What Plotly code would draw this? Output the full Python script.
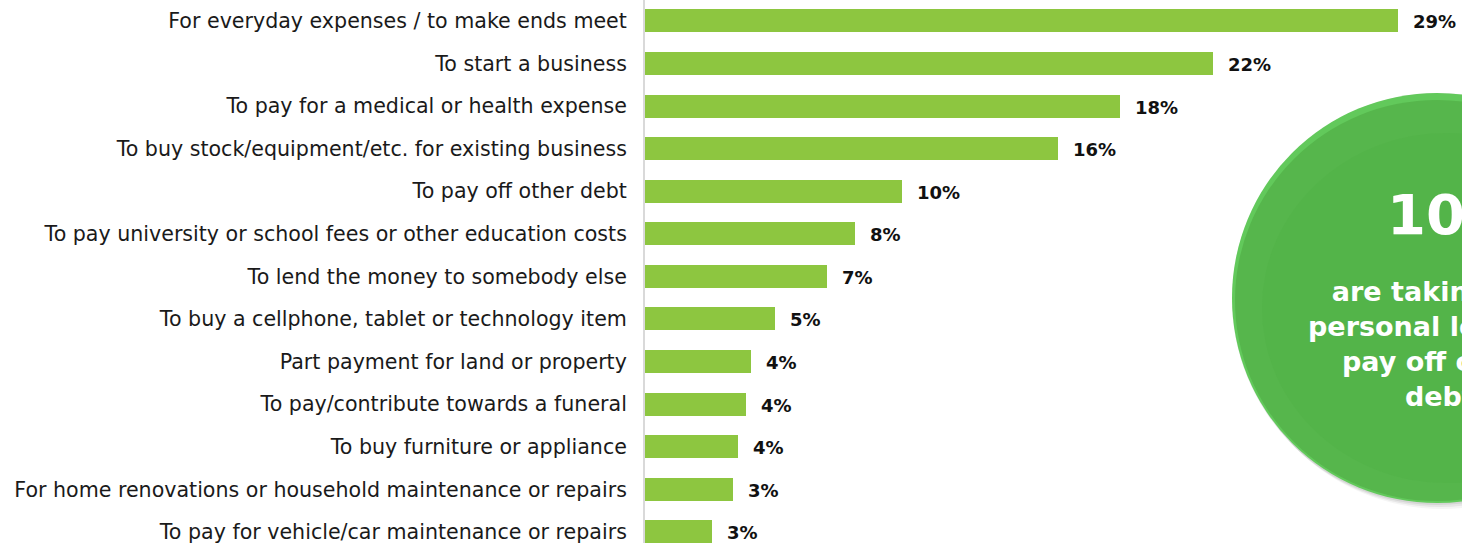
import plotly.graph_objects as go

# Reasons for taking a personal loan (share of borrowers, %)
reasons = [
    "For everyday expenses / to make ends meet",
    "To start a business",
    "To pay for a medical or health expense",
    "To buy stock/equipment/etc. for existing business",
    "To pay off other debt",
    "To pay university or school fees or other education costs",
    "To lend the money to somebody else",
    "To buy a cellphone, tablet or technology item",
    "Part payment for land or property",
    "To pay/contribute towards a funeral",
    "To buy furniture or appliance",
    "For home renovations or household maintenance or repairs",
    "To pay for vehicle/car maintenance or repairs",
]
shares = [29.0, 21.9, 18.3, 15.9, 9.9, 8.1, 7.0, 5.0, 4.1, 3.9, 3.6, 3.4, 2.6]

callout_value = "10%"
callout_text = "are taking out<br>personal loans to<br>pay off other<br>debt"

W, H = 1462, 543
LEFT = 645  # pixel position of the category axis

BAR_COLOR = "#8DC640"
LABEL_FONT = "DejaVu Sans"

fig = go.Figure()
fig.add_trace(go.Bar(
    x=shares,
    y=reasons,
    orientation="h",
    marker=dict(color=BAR_COLOR, line=dict(width=0)),
    width=0.54,
    hoverinfo="skip",
))

# Value labels to the right of each bar
for r, v in zip(reasons, shares):
    fig.add_annotation(
        x=v, y=r, xref="x", yref="y",
        text=f"<b>{round(v)}%</b>",
        showarrow=False, xanchor="left", yanchor="middle",
        xshift=13, yshift=-1,
        font=dict(family=LABEL_FONT, size=18, color="#111111"),
    )

# Callout bubble (paper coordinates derived from pixel positions)
def px_x(p):
    return (p - LEFT) / (W - LEFT)

def px_y(p):
    return 1 - p / H

cx, cy, rad = 1437, 298, 205
# soft drop shadow
for off, op in [(6, 0.08), (4, 0.12), (2, 0.16)]:
    fig.add_shape(type="circle", xref="paper", yref="paper",
                  x0=px_x(cx - rad + off - 2), x1=px_x(cx + rad + off),
                  y0=px_y(cy + rad + off), y1=px_y(cy - rad + off - 2),
                  fillcolor="#7a7a7a", opacity=op, line=dict(width=0), layer="above")
# main disc with lighter rim highlight
fig.add_shape(type="circle", xref="paper", yref="paper",
              x0=px_x(cx - rad), x1=px_x(cx + rad),
              y0=px_y(cy + rad), y1=px_y(cy - rad),
              fillcolor="#62c95b", line=dict(width=0), layer="above")
fig.add_shape(type="circle", xref="paper", yref="paper",
              x0=px_x(cx - rad + 3), x1=px_x(cx + rad - 3),
              y0=px_y(cy + rad - 2), y1=px_y(cy - rad + 7),
              fillcolor="#56b64c", line=dict(width=0), layer="above")
fig.add_shape(type="circle", xref="paper", yref="paper",
              x0=px_x(cx - rad + 30), x1=px_x(cx + rad - 10),
              y0=px_y(cy + rad - 20), y1=px_y(cy - rad + 40),
              fillcolor="#52b248", opacity=0.6, line=dict(width=0), layer="above")

fig.add_annotation(
    xref="paper", yref="paper", x=px_x(1385), y=px_y(214),
    text=f"<b>{callout_value}</b>", showarrow=False,
    xanchor="left", yanchor="middle",
    font=dict(family=LABEL_FONT, size=56, color="white"),
)
fig.add_annotation(
    xref="paper", yref="paper", x=px_x(1440), y=px_y(344),
    text=f"<b>{callout_text}</b>", showarrow=False,
    xanchor="center", yanchor="middle", align="center",
    font=dict(family=LABEL_FONT, size=27, color="white"),
)

fig.update_layout(
    width=W, height=H,
    margin=dict(l=LEFT, r=0, t=0, b=0),
    paper_bgcolor="white", plot_bgcolor="white",
    showlegend=False,
    bargap=0,
    xaxis=dict(range=[0, (W - LEFT) / 25.95], visible=False, fixedrange=True),
    yaxis=dict(
        type="category",
        categoryorder="array", categoryarray=reasons,
        range=[12.26, -0.49],
        showline=True, linecolor="#d9d9d9", linewidth=2,
        showgrid=False, ticks="", ticklabelstandoff=12,
        tickfont=dict(family=LABEL_FONT, size=20.6, color="#1a1a1a"),
        fixedrange=True,
    ),
)

fig.write_html("out.html")
